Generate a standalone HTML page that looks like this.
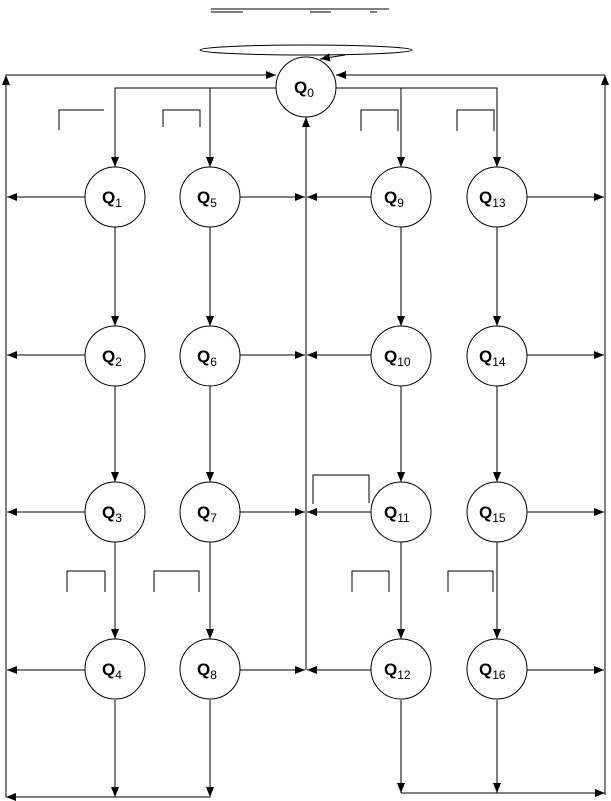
<!DOCTYPE html>
<html><head><style>html,body{margin:0;padding:0;background:#fff}svg{display:block}
text{font-family:"Liberation Sans",Arial,sans-serif;font-weight:bold;fill:#000}</style></head>
<body>
<svg width="611" height="801" viewBox="0 0 611 801" xmlns="http://www.w3.org/2000/svg">
<defs><marker id="a" viewBox="0 0 10 8" refX="10" refY="4" markerWidth="10" markerHeight="8" markerUnits="userSpaceOnUse" orient="auto"><path d="M0,0L10,4L0,8z" fill="#000"/></marker></defs>
<g stroke="#000" stroke-width="1" fill="none">
<line x1="211" y1="9" x2="389" y2="9"/>
<line x1="211" y1="12" x2="243" y2="12"/><line x1="310" y1="12" x2="331" y2="12"/><line x1="370" y1="12" x2="377" y2="12"/>
<ellipse cx="306" cy="50" rx="106" ry="5"/>
<line x1="345" y1="55" x2="320" y2="59" marker-end="url(#a)"/>
<line x1="6" y1="797" x2="6" y2="75" marker-end="url(#a)"/>
<line x1="6" y1="75" x2="276" y2="75" marker-end="url(#a)"/>
<line x1="605" y1="795" x2="605" y2="75" marker-end="url(#a)"/>
<line x1="605" y1="75" x2="336" y2="75" marker-end="url(#a)"/>
<polyline points="276,88 115,88 115,167" marker-end="url(#a)"/>
<line x1="210" y1="88" x2="210" y2="167" marker-end="url(#a)"/>
<polyline points="336,88 497,88 497,167" marker-end="url(#a)"/>
<line x1="401" y1="88" x2="401" y2="167" marker-end="url(#a)"/>
<line x1="306" y1="670" x2="306" y2="117" marker-end="url(#a)"/>
<line x1="115" y1="227" x2="115" y2="326" marker-end="url(#a)"/>
<line x1="115" y1="386" x2="115" y2="482" marker-end="url(#a)"/>
<line x1="115" y1="542" x2="115" y2="639" marker-end="url(#a)"/>
<line x1="115" y1="700" x2="115" y2="797" marker-end="url(#a)"/>
<line x1="210" y1="227" x2="210" y2="326" marker-end="url(#a)"/>
<line x1="210" y1="386" x2="210" y2="482" marker-end="url(#a)"/>
<line x1="210" y1="542" x2="210" y2="639" marker-end="url(#a)"/>
<line x1="210" y1="700" x2="210" y2="797" marker-end="url(#a)"/>
<line x1="401" y1="227" x2="401" y2="326" marker-end="url(#a)"/>
<line x1="401" y1="386" x2="401" y2="482" marker-end="url(#a)"/>
<line x1="401" y1="542" x2="401" y2="639" marker-end="url(#a)"/>
<line x1="401" y1="700" x2="401" y2="793" marker-end="url(#a)"/>
<line x1="497" y1="227" x2="497" y2="326" marker-end="url(#a)"/>
<line x1="497" y1="386" x2="497" y2="482" marker-end="url(#a)"/>
<line x1="497" y1="542" x2="497" y2="639" marker-end="url(#a)"/>
<line x1="497" y1="700" x2="497" y2="793" marker-end="url(#a)"/>
<line x1="210" y1="797" x2="6" y2="797" marker-end="url(#a)"/>
<line x1="401" y1="793" x2="605" y2="793" marker-end="url(#a)"/>
<line x1="85" y1="197" x2="7" y2="197" marker-end="url(#a)"/>
<line x1="240" y1="197" x2="305" y2="197" marker-end="url(#a)"/>
<line x1="371" y1="197" x2="307" y2="197" marker-end="url(#a)"/>
<line x1="527" y1="197" x2="604" y2="197" marker-end="url(#a)"/>
<line x1="85" y1="355" x2="7" y2="355" marker-end="url(#a)"/>
<line x1="240" y1="355" x2="305" y2="355" marker-end="url(#a)"/>
<line x1="371" y1="355" x2="307" y2="355" marker-end="url(#a)"/>
<line x1="527" y1="355" x2="604" y2="355" marker-end="url(#a)"/>
<line x1="85" y1="512" x2="7" y2="512" marker-end="url(#a)"/>
<line x1="240" y1="512" x2="305" y2="512" marker-end="url(#a)"/>
<line x1="371" y1="512" x2="307" y2="512" marker-end="url(#a)"/>
<line x1="527" y1="512" x2="604" y2="512" marker-end="url(#a)"/>
<line x1="85" y1="670" x2="7" y2="670" marker-end="url(#a)"/>
<line x1="240" y1="670" x2="305" y2="670" marker-end="url(#a)"/>
<line x1="371" y1="670" x2="307" y2="670" marker-end="url(#a)"/>
<line x1="527" y1="670" x2="604" y2="670" marker-end="url(#a)"/>
<polyline points="59,130 59,110 104,110"/>
<polyline points="163,127 163,110 200,110 200,127"/>
<polyline points="361,131 361,110 398,110 398,131"/>
<polyline points="457,131 457,110 494,110 494,131"/>
<polyline points="67,592 67,571 105,571 105,592"/>
<polyline points="154,592 154,571 199,571 199,592"/>
<polyline points="352,592 352,571 389,571 389,592"/>
<polyline points="448,592 448,571 493,571 493,592"/>
<polyline points="313,504 313,475 369,475 369,503"/>
<g fill="#fff">
<circle cx="306" cy="87" r="30"/>
<circle cx="115" cy="197" r="30"/><circle cx="210" cy="197" r="30"/><circle cx="401" cy="197" r="30"/><circle cx="497" cy="197" r="30"/>
<circle cx="115" cy="356" r="30"/><circle cx="210" cy="356" r="30"/><circle cx="401" cy="356" r="30"/><circle cx="497" cy="356" r="30"/>
<circle cx="115" cy="512" r="30"/><circle cx="210" cy="512" r="30"/><circle cx="401" cy="512" r="30"/><circle cx="497" cy="512" r="30"/>
<circle cx="115" cy="669" r="30"/><circle cx="210" cy="669" r="30"/><circle cx="401" cy="669" r="30"/><circle cx="497" cy="669" r="30"/>
</g>
</g>
<g font-size="17">
<text x="294" y="93">Q<tspan font-size="12" font-weight="normal" dy="4">0</tspan></text>
<text x="102" y="203">Q<tspan font-size="12" font-weight="normal" dy="4">1</tspan></text>
<text x="197" y="203">Q<tspan font-size="12" font-weight="normal" dy="4">5</tspan></text>
<text x="384" y="203">Q<tspan font-size="12" font-weight="normal" dy="4">9</tspan></text>
<text x="479" y="203">Q<tspan font-size="12" font-weight="normal" dy="4">13</tspan></text>
<text x="102" y="362">Q<tspan font-size="12" font-weight="normal" dy="4">2</tspan></text>
<text x="197" y="362">Q<tspan font-size="12" font-weight="normal" dy="4">6</tspan></text>
<text x="384" y="362">Q<tspan font-size="12" font-weight="normal" dy="4">10</tspan></text>
<text x="479" y="362">Q<tspan font-size="12" font-weight="normal" dy="4">14</tspan></text>
<text x="102" y="518">Q<tspan font-size="12" font-weight="normal" dy="4">3</tspan></text>
<text x="197" y="518">Q<tspan font-size="12" font-weight="normal" dy="4">7</tspan></text>
<text x="384" y="518">Q<tspan font-size="12" font-weight="normal" dy="4">11</tspan></text>
<text x="479" y="518">Q<tspan font-size="12" font-weight="normal" dy="4">15</tspan></text>
<text x="102" y="675">Q<tspan font-size="12" font-weight="normal" dy="4">4</tspan></text>
<text x="197" y="675">Q<tspan font-size="12" font-weight="normal" dy="4">8</tspan></text>
<text x="384" y="675">Q<tspan font-size="12" font-weight="normal" dy="4">12</tspan></text>
<text x="479" y="675">Q<tspan font-size="12" font-weight="normal" dy="4">16</tspan></text>
</g>
</svg>
</body></html>
